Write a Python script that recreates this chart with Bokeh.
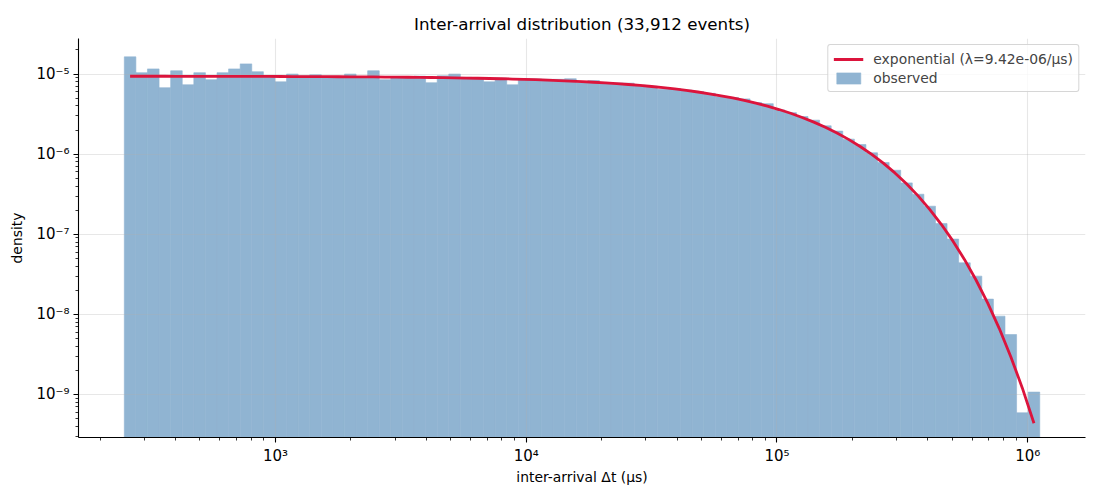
import numpy as np
from bokeh.plotting import figure
from bokeh.models import (ColumnDataSource, Range1d, Legend, LegendItem,
                          CustomJSTickFormatter, LogTicker)
from bokeh.embed import file_html
from bokeh.resources import INLINE

# --- data ---
n_events = 33912
fit_lambda = 9.42e-06          # per microsecond
bin_min = 249.6                # smallest inter-arrival (us)
bin_max = 1.117e6              # largest inter-arrival (us)
n_bins = 79

# observed density per log-spaced bin (left to right)
density = [
    1.64e-05, 1.04e-05, 1.16e-05, 6.76e-06, 1.10e-05, 7.36e-06, 1.04e-05, 8.50e-06,
    1.04e-05, 1.16e-05, 1.34e-05, 1.07e-05, 9.50e-06, 8.00e-06, 1.00e-05, 9.50e-06,
    9.80e-06, 9.40e-06, 9.40e-06, 1.00e-05, 9.30e-06, 1.10e-05, 8.50e-06, 9.30e-06,
    9.30e-06, 9.40e-06, 7.80e-06, 9.50e-06, 1.00e-05, 9.10e-06, 9.00e-06, 8.00e-06,
    8.90e-06, 7.35e-06, 8.80e-06, 8.70e-06, 8.60e-06, 8.60e-06, 8.75e-06, 7.80e-06,
    8.30e-06, 7.85e-06, 7.75e-06, 7.70e-06, 7.25e-06, 7.05e-06, 6.45e-06, 6.60e-06,
    6.30e-06, 6.05e-06, 5.75e-06, 5.22e-06, 5.10e-06, 4.90e-06, 4.40e-06, 4.27e-06,
    3.57e-06, 3.30e-06, 2.95e-06, 2.66e-06, 2.26e-06, 1.94e-06, 1.54e-06, 1.32e-06,
    1.04e-06, 7.87e-07, 6.30e-07, 4.38e-07, 3.16e-07, 2.24e-07, 1.36e-07, 8.70e-08,
    4.40e-08, 3.00e-08, 1.55e-08, 9.50e-09, 5.60e-09, 5.90e-10, 1.07e-09,
]

edges = np.geomspace(bin_min, bin_max, n_bins + 1)
centers = np.sqrt(edges[:-1] * edges[1:])
fit = fit_lambda * np.exp(-fit_lambda * centers)

FONT = "DejaVu Sans"
BAR = "#90b4d2"   # steelblue at 60% over white

p = figure(width=1100, height=500, x_axis_type="log", y_axis_type="log",
           x_range=Range1d(163.9, 1.70e6), y_range=Range1d(2.9e-10, 2.78e-5),
           output_backend="svg", toolbar_location=None,
           title=f"Inter-arrival distribution ({n_events:,} events)",
           min_border_left=78, min_border_right=15, min_border_top=38, min_border_bottom=63)
p.outline_line_color = None
p.background_fill_color = "white"
p.border_fill_color = "white"

p.title.align = "center"
p.title.text_font = FONT
p.title.text_font_size = "16.7px"
p.title.text_font_style = "normal"
p.title.text_color = "black"
p.title.standoff = 10

src = ColumnDataSource(dict(left=edges[:-1], right=edges[1:], top=density,
                            bottom=[1e-14] * n_bins))
bars = p.quad(left="left", right="right", top="top", bottom="bottom", source=src,
              fill_color=BAR, line_color=BAR, line_width=0.6, level="image")

fit_line = p.line(centers, fit, line_color="crimson", line_width=2.8)

sup = CustomJSTickFormatter(code="""
const m = {"-": "\u207b", "0": "\u2070", "1": "\u00b9", "2": "\u00b2", "3": "\u00b3",
           "4": "\u2074", "5": "\u2075", "6": "\u2076", "7": "\u2077", "8": "\u2078", "9": "\u2079"};
const e = Math.round(Math.log10(tick));
return "10" + String(e).split("").map(c => m[c]).join("");
""")

for ax in (p.xaxis[0], p.yaxis[0]):
    ax.formatter = sup
    ax.axis_line_color = "black"
    ax.axis_line_width = 1.1
    ax.major_tick_line_color = "black"
    ax.minor_tick_line_color = "black"
    ax.major_tick_line_width = 1.1
    ax.minor_tick_line_width = 0.8
    ax.major_tick_in = 0
    ax.major_tick_out = 5
    ax.minor_tick_in = 0
    ax.minor_tick_out = 3
    ax.major_label_text_font = FONT
    ax.major_label_text_font_size = "15px"
    ax.major_label_text_color = "black"
    ax.major_label_standoff = 4
    ax.axis_label_text_font = FONT
    ax.axis_label_text_font_size = "13.9px"
    ax.axis_label_text_font_style = "normal"
    ax.axis_label_text_color = "black"

p.xaxis.ticker = LogTicker(num_minor_ticks=10)
p.yaxis.ticker = LogTicker(num_minor_ticks=10, desired_num_ticks=6)
p.xaxis.axis_label = "inter-arrival \u0394t (\u00b5s)"
p.yaxis.axis_label = "density"
p.xaxis.axis_label_standoff = 1
p.yaxis.axis_label_standoff = 8

for g in (p.xgrid, p.ygrid):
    g.grid_line_color = "#b0b0b0"
    g.grid_line_alpha = 0.3
    g.grid_line_width = 1.1

legend = Legend(items=[
    LegendItem(label=f"exponential (\u03bb={fit_lambda:.2e}/\u00b5s)", renderers=[fit_line]),
    LegendItem(label="observed", renderers=[bars]),
], location="top_right")
legend.label_text_font = FONT
legend.label_text_font_size = "13.9px"
legend.glyph_width = 30
legend.glyph_height = 14
legend.label_height = 17
legend.label_standoff = 10
legend.spacing = 2
legend.padding = 5
legend.margin = 6
legend.border_line_color = "#cccccc"
legend.border_line_alpha = 0.8
legend.background_fill_alpha = 0.8
legend.border_radius = 3
p.add_layout(legend)

open("out.html", "w").write(file_html(p, INLINE))
